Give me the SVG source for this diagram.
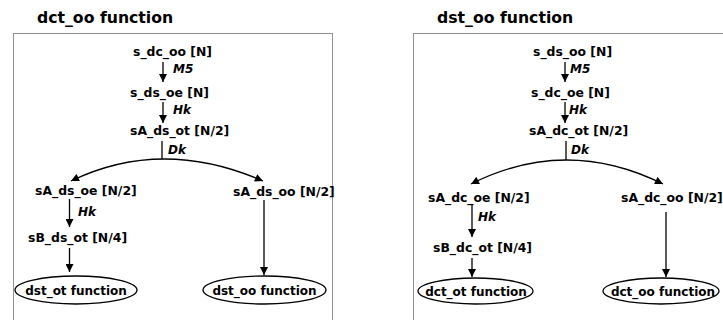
<svg xmlns="http://www.w3.org/2000/svg" width="723" height="320" viewBox="0 0 723 320">
<style>
.t{font-family:"DejaVu Sans",Verdana,sans-serif;font-weight:bold;font-size:12.4px;fill:#000}
.title{font-family:"DejaVu Sans",Verdana,sans-serif;font-weight:bold;font-size:15.7px;fill:#000}
.lbl{font-family:"DejaVu Sans",Verdana,sans-serif;font-weight:bold;font-style:italic;font-size:12px;fill:#000}
.e{font-family:"DejaVu Sans",Verdana,sans-serif;font-weight:bold;font-size:12px;fill:#000;text-anchor:middle}
.box{fill:none;stroke:#222;stroke-width:1;stroke-dasharray:1 1}
.ell{fill:#fff;stroke:#000;stroke-width:1.3}
.c{fill:none;stroke:#000;stroke-width:1.3}
</style>
<defs>
<marker id="ah" viewBox="0 0 10 10" refX="10" refY="5" markerUnits="userSpaceOnUse" markerWidth="9" markerHeight="8" orient="auto-start-reverse">
<path d="M0,0 L10,5 L0,10 z" fill="#000"/>
</marker>
</defs>
<rect fill="#fff" x="0" y="0" width="723" height="320"/>

<g id="panel-left">
<text class="title" x="37" y="23">dct_oo function</text>
<rect class="box" x="13.5" y="33.5" width="319" height="300"/>
</g>
<g id="panel-right">
<text class="title" x="437" y="23">dst_oo function</text>
<rect class="box" x="413.5" y="33.5" width="330" height="300"/>
</g>

<g id="L-s_dc_oo"><text class="t" x="133" y="56">s_dc_oo [N]</text></g>
<g id="L-s_ds_oe"><text class="t" x="130" y="97">s_ds_oe [N]</text></g>
<g id="L-sA_ds_ot"><text class="t" x="130" y="135">sA_ds_ot [N/2]</text></g>
<g id="L-sA_ds_oe"><text class="t" x="35" y="195">sA_ds_oe [N/2]</text></g>
<g id="L-sA_ds_oo"><text class="t" x="233" y="196">sA_ds_oo [N/2]</text></g>
<g id="L-sB_ds_ot"><text class="t" x="28" y="242">sB_ds_ot [N/4]</text></g>
<g id="L-dst_ot"><ellipse class="ell" cx="76" cy="290" rx="61" ry="14"/><text class="e" x="76" y="295">dst_ot function</text></g>
<g id="L-dst_oo"><ellipse class="ell" cx="264.5" cy="290" rx="61.5" ry="14"/><text class="e" x="264.5" y="295">dst_oo function</text></g>

<g id="R-s_ds_oo"><text class="t" x="533" y="56">s_ds_oo [N]</text></g>
<g id="R-s_dc_oe"><text class="t" x="531" y="97">s_dc_oe [N]</text></g>
<g id="R-sA_dc_ot"><text class="t" x="529" y="135">sA_dc_ot [N/2]</text></g>
<g id="R-sA_dc_oe"><text class="t" x="428" y="202">sA_dc_oe [N/2]</text></g>
<g id="R-sA_dc_oo"><text class="t" x="621" y="202">sA_dc_oo [N/2]</text></g>
<g id="R-sB_dc_ot"><text class="t" x="433" y="252">sB_dc_ot [N/4]</text></g>
<g id="R-dct_ot"><ellipse class="ell" cx="475.5" cy="291" rx="57.5" ry="13"/><text class="e" x="476" y="296">dct_ot function</text></g>
<g id="R-dct_oo"><ellipse class="ell" cx="661" cy="291" rx="58" ry="13"/><text class="e" x="663" y="296">dct_oo function</text></g>

<g id="connectors">
<line class="c" x1="163" y1="62" x2="163" y2="82" marker-end="url(#ah)"/>
<text class="lbl" x="173" y="73">M5</text>
<line class="c" x1="163" y1="102" x2="163" y2="123" marker-end="url(#ah)"/>
<text class="lbl" x="173" y="114">Hk</text>
<line class="c" x1="162" y1="141" x2="162" y2="159"/>
<text class="lbl" x="168" y="154">Dk</text>
<path class="c" d="M71,181 Q162,137 263,181" marker-start="url(#ah)" marker-end="url(#ah)"/>
<line class="c" x1="69.5" y1="199" x2="69.5" y2="227" marker-end="url(#ah)"/>
<text class="lbl" x="78" y="216">Hk</text>
<line class="c" x1="69.5" y1="248" x2="69.5" y2="272" marker-end="url(#ah)"/>
<line class="c" x1="264" y1="200" x2="264" y2="275" marker-end="url(#ah)"/>

<line class="c" x1="565" y1="62" x2="565" y2="82" marker-end="url(#ah)"/>
<text class="lbl" x="570" y="73">M5</text>
<line class="c" x1="565" y1="102" x2="565" y2="123" marker-end="url(#ah)"/>
<text class="lbl" x="569" y="114">Hk</text>
<line class="c" x1="566" y1="141" x2="566" y2="160"/>
<text class="lbl" x="571" y="154">Dk</text>
<path class="c" d="M471,184 Q566,136 663,184" marker-start="url(#ah)" marker-end="url(#ah)"/>
<line class="c" x1="472" y1="205" x2="472" y2="237" marker-end="url(#ah)"/>
<text class="lbl" x="478" y="221">Hk</text>
<line class="c" x1="472" y1="258" x2="472" y2="277" marker-end="url(#ah)"/>
<line class="c" x1="666" y1="212" x2="666" y2="277" marker-end="url(#ah)"/>
</g>
</svg>
